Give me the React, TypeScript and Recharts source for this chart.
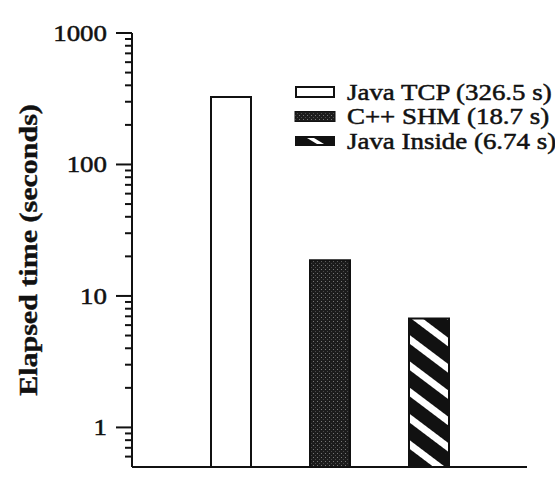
import React from 'react';
import { BarChart, Bar, XAxis, YAxis, Cell, Legend } from 'recharts';

const categories = ['Java TCP', 'C++ SHM', 'Java Inside'];
const elapsedSeconds = [326.5, 18.7, 6.74];
const legendLabels = ['Java TCP (326.5 s)', 'C++ SHM (18.7 s)', 'Java Inside (6.74 s)'];
const majorTicks = [1, 10, 100, 1000];
const majorTickLabels = ['1', '10', '100', '1000'];
const minorTicks = [0.6, 0.7, 0.8, 0.9, 2, 3, 4, 5, 6, 7, 8, 9, 20, 30, 40, 50, 60, 70, 80, 90, 200, 300, 400, 500, 600, 700, 800, 900];
const yDomain: [number, number] = [0.5, 1000];
const yLabel = 'Elapsed time (seconds)';

const fills = ['#ffffff', 'url(#dotFill)', 'url(#stripeFill)'];
const INK = '#111111';
const FONT = '"Liberation Serif", "Times New Roman", serif';

const data = categories.map((name, i) => ({ name, value: elapsedSeconds[i] }));
const allTicks = [...minorTicks, ...majorTicks].sort((a, b) => a - b);

const YTick = (props: any) => {
  const { x, y, payload } = props;
  const v = payload.value;
  const idx = majorTicks.indexOf(v);
  const major = idx >= 0;
  return (
    <g>
      <line x1={x - (major ? 16 : 7)} x2={x} y1={y} y2={y} stroke={INK} strokeWidth={2} />
      {major && (
        <text
          transform={`translate(${x - 25},${y}) scale(1.17,1)`}
          textAnchor="end"
          dy="0.34em"
          fontSize={23}
          fontFamily={FONT}
          fill={INK}
          stroke={INK}
          strokeWidth={0.5}
        >
          {majorTickLabels[idx]}
        </text>
      )}
    </g>
  );
};

const renderYLabel = (p: any) => {
  const vb = p.viewBox || { y: 33, height: 434 };
  const cy = vb.y + vb.height / 2;
  return (
    <text
      transform={`translate(37,${cy}) rotate(-90) scale(1.2,1)`}
      textAnchor="middle"
      fontSize={25}
      fontWeight="bold"
      fontFamily={FONT}
      fill={INK}
      stroke={INK}
      strokeWidth={0.4}
    >
      {yLabel}
    </text>
  );
};

const LegendBox = () => (
  <svg width={265} height={80} style={{ overflow: 'visible', display: 'block' }}>
    <defs>
      <pattern id="dotFillL" patternUnits="userSpaceOnUse" width={4} height={4}>
        <rect width={4} height={4} fill="#1c1c1c" />
        <rect x={1} y={1} width={1} height={1} fill="#777" />
        <rect x={3} y={3} width={1} height={1} fill="#4a4a4a" />
      </pattern>
    </defs>
    {legendLabels.map((label, i) => {
      const cy = 14 + i * 24.5;
      return (
        <g key={label}>
          {i === 0 && <rect x={6} y={cy - 5} width={38} height={10} fill="#fff" stroke={INK} strokeWidth={2} />}
          {i === 1 && <rect x={5} y={cy - 5} width={40} height={10} fill="url(#dotFillL)" stroke={INK} strokeWidth={1} />}
          {i === 2 && (
            <g>
              <rect x={5} y={cy - 5} width={40} height={10} fill={INK} />
              <polygon points={`${17},${cy - 3} ${24},${cy - 3} ${34},${cy + 3} ${27},${cy + 3}`} fill="#fff" />
            </g>
          )}
          <text
            transform={`translate(57,${cy + 7.5}) scale(1.17,1)`}
            fontSize={23}
            fontFamily={FONT}
            fill={INK}
            stroke={INK}
            strokeWidth={0.5}
          >
            {label}
          </text>
        </g>
      );
    })}
  </svg>
);

export default function App() {
  return (
    <div style={{ position: 'absolute', left: 0, top: 0, width: 555, height: 483, background: '#fff' }}>
      <BarChart width={555} height={483} data={data} margin={{ top: 33, right: 28, bottom: 14, left: 0 }} barSize={40}>
        <defs>
          <pattern id="dotFill" patternUnits="userSpaceOnUse" width={4} height={4}>
            <rect width={4} height={4} fill="#1c1c1c" />
            <rect x={1} y={1} width={1} height={1} fill="#777" />
            <rect x={3} y={3} width={1} height={1} fill="#4a4a4a" />
          </pattern>
          <pattern id="stripeFill" patternUnits="userSpaceOnUse" width={10} height={21} patternTransform="rotate(37)">
            <rect width={10} height={21} fill={INK} />
            <rect y={0} width={10} height={7} fill="#ffffff" />
          </pattern>
        </defs>
        <XAxis
          dataKey="name"
          type="category"
          padding={{ left: 49, right: 49 }}
          tick={false}
          tickLine={false}
          height={2}
          axisLine={{ stroke: INK, strokeWidth: 2 }}
        />
        <YAxis
          type="number"
          scale="log"
          domain={yDomain}
          allowDataOverflow
          ticks={allTicks}
          interval={0}
          width={132}
          tickSize={0}
          tickMargin={0}
          tickLine={false}
          tick={<YTick />}
          axisLine={{ stroke: INK, strokeWidth: 2 }}
          label={renderYLabel}
        />
        <Legend
          layout="vertical"
          align="center"
          verticalAlign="middle"
          wrapperStyle={{ left: 290, top: 78, width: 265, height: 80 }}
          content={() => <LegendBox />}
        />
        <Bar dataKey="value" stroke={INK} strokeWidth={2} isAnimationActive={false}>
          {data.map((d, i) => (
            <Cell key={d.name} fill={fills[i]} />
          ))}
        </Bar>
      </BarChart>
    </div>
  );
}
